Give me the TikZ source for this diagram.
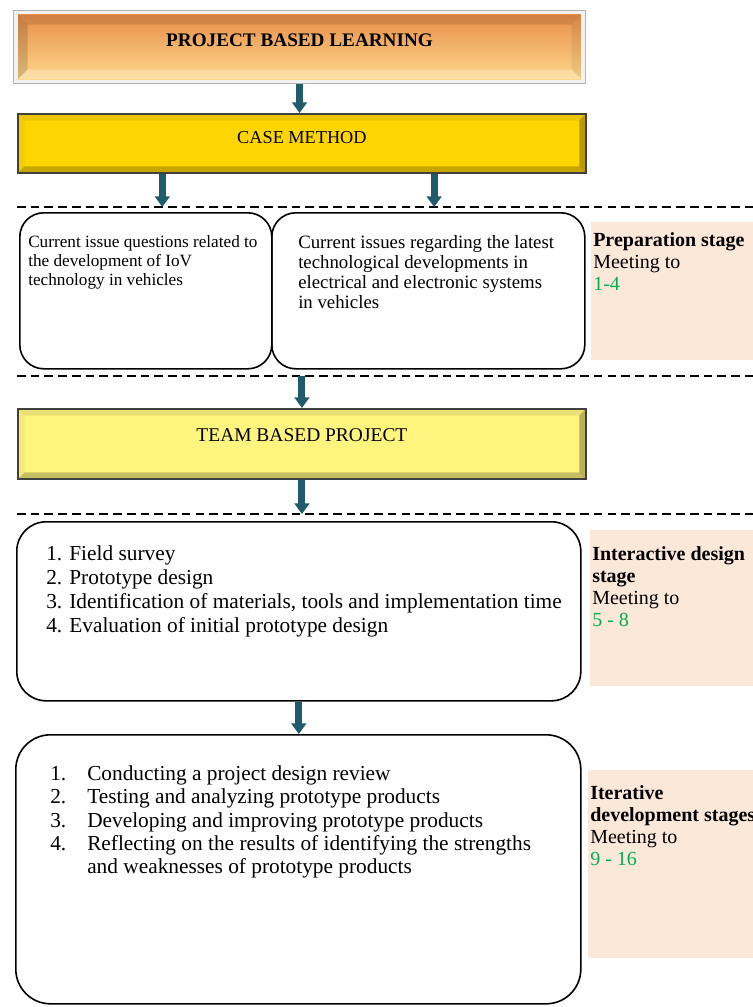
\documentclass[tikz,border=0pt]{standalone}
\usepackage{fontspec}
\setmainfont{Liberation Serif}
\usepackage{xcolor}
\usetikzlibrary{arrows.meta,positioning,calc}
\newlength{\px}
\setlength{\px}{0.75pt}
\definecolor{arrteal}{HTML}{1F5B6B}
\definecolor{pbltop}{HTML}{E68A46}
\definecolor{pblmid}{HTML}{FBA24E}
\definecolor{pblbot}{HTML}{FFDC8E}
\definecolor{cmgold}{HTML}{FFD500}
\definecolor{tbpyellow}{HTML}{FFF47E}
\definecolor{stagefill}{HTML}{FCE8D9}
\definecolor{meetgreen}{HTML}{00B050}
% bevel edges inside a path picture: inset, depth, top, left, right, bottom
\newcommand{\bevelbox}[6]{%
  \path (path picture bounding box.north west) ++(#1,-#1) coordinate (bA)
        (path picture bounding box.south east) ++(-#1,#1) coordinate (bC);
  \coordinate (bB) at (bC |- bA);
  \coordinate (bD) at (bA |- bC);
  \fill[#3] (bA) -- (bB) -- ($(bB)+(-#2,-#2)$) -- ($(bA)+(#2,-#2)$) -- cycle;
  \fill[#4] (bA) -- (bD) -- ($(bD)+(#2,#2)$) -- ($(bA)+(#2,-#2)$) -- cycle;
  \fill[#5] (bB) -- (bC) -- ($(bC)+(-#2,#2)$) -- ($(bB)+(-#2,-#2)$) -- cycle;
  \fill[#6] (bD) -- (bC) -- ($(bC)+(-#2,#2)$) -- ($(bD)+(#2,#2)$) -- cycle;
}

\begin{document}
\begin{tikzpicture}[x=0.75pt,y=-0.75pt]

\tikzset{
	headbox/.style={
		rectangle,
		anchor=north west,
		inner sep=0pt,
		text centered,
		minimum width=568\px},
	pblbox/.style={
		headbox,
		draw=black!30,
		line width=0.8pt,
		fill=black!5,
		minimum width=572\px,
		minimum height=73\px,
		text depth=11pt,
		font=\bfseries\fontsize{14.4}{16}\selectfont,
		path picture={
			\shade[top color=pbltop, middle color=pblmid, bottom color=pblbot]
				($(path picture bounding box.north west)+(3.5pt,-3pt)$) rectangle
				($(path picture bounding box.south east)+(-3.5pt,3pt)$);
			\bevelbox{3.5pt}{7pt}{black,opacity=0.10}{black,opacity=0.14}{black,opacity=0.06}{white,opacity=0.25}}},
	yelbox/.style={
		headbox,
		draw=black!75,
		line width=1.4pt,
		fill=#1,
		path picture={
			\bevelbox{0pt}{5pt}{black,opacity=0.08}{black,opacity=0.04}{black,opacity=0.28}{black,opacity=0.22}}},
	roundbox/.style={
		rectangle,
		anchor=north west,
		draw=black,
		line width=1.2pt,
		rounded corners=#1,
		inner sep=0pt},
	stagebox/.style={
		rectangle,
		anchor=north west,
		fill=stagefill,
		inner sep=0pt},
	boxtext/.style={
		anchor=north west,
		inner sep=0pt,
		align=left},
	stagetext/.style={
		boxtext,
		font=\fontsize{15}{16.5}\selectfont},
	flow/.style={
		draw=arrteal,
		line width=7\px,
		-{Triangle[width=11pt,length=8pt]}},
	sepline/.style={
		line width=1.5pt,
		dash pattern=on 6.5pt off 3.8pt}
}

\useasboundingbox (0,0) rectangle (753,1007);
\clip (0,0) rectangle (753,1007);

% heading boxes
\node[pblbox] (pbl) at (13,10) {PROJECT BASED LEARNING};
\node[yelbox=cmgold, minimum height=59\px, text depth=9pt, font=\fontsize{13.7}{15}\selectfont] (cm) at (17,113) {CASE METHOD};
\node[yelbox=tbpyellow, minimum height=70\px, text depth=13.5pt, font=\fontsize{14.6}{16}\selectfont] (tbp) at (17,408) {TEAM BASED PROJECT};

% stage separators
\coordinate (s1w) at (17,207);  \coordinate (s1e) at (760,207);
\coordinate (s2w) at (17,376);  \coordinate (s2e) at (760,376);
\coordinate (s3w) at (17,514);  \coordinate (s3e) at (760,514);
\draw[sepline] (s1w) -- (s1e);
\draw[sepline] (s2w) -- (s2e);
\draw[sepline] (s3w) -- (s3e);

% content boxes
\node[roundbox=18pt, minimum width=252\px, minimum height=156\px] (iss1) at (19,212) {};
\node[roundbox=18pt, minimum width=313\px, minimum height=156\px] (iss2) at (271,212) {};
\node[roundbox=22pt, minimum width=564\px, minimum height=179\px] (design) at (16,521) {};
\node[roundbox=26pt, minimum width=565\px, minimum height=269\px] (develop) at (15,734) {};

\node[boxtext, font=\fontsize{12.9}{14.3}\selectfont] (iss1t) at (28,235)
{Current issue questions related to\\the development of IoV\\technology in vehicles};
\node[boxtext, font=\fontsize{14.1}{15}\selectfont] (iss2t) at (298,235.5)
{Current issues regarding the latest\\technological developments in\\electrical and electronic systems\\in vehicles};
\node[boxtext, font=\fontsize{16}{18}\selectfont] (designt) at (46,545)
{1. Field survey\\2. Prototype design\\3. Identification of materials, tools and implementation time\\4. Evaluation of initial prototype design};
\node[boxtext, font=\fontsize{16}{17.6}\selectfont] (developt) at (50,765)
{\makebox[37\px][l]{1.}Conducting a project design review\\
 \makebox[37\px][l]{2.}Testing and analyzing prototype products\\
 \makebox[37\px][l]{3.}Developing and improving prototype products\\
 \makebox[37\px][l]{4.}Reflecting on the results of identifying the strengths\\
 \hspace*{37\px}and weaknesses of prototype products};

% stage labels
\node[stagebox, minimum width=170\px, minimum height=138\px] (st1) at (591,222) {};
\node[stagebox, minimum width=170\px, minimum height=156\px] (st2) at (590,530) {};
\node[stagebox, minimum width=170\px, minimum height=188\px] (st3) at (588,770) {};

\node[stagetext] (st1t) at (593,232.5)
{\textbf{Preparation stage}\\Meeting to\\\textcolor{meetgreen}{1-4}};
\node[stagetext] (st2t) at (592,546.5)
{\textbf{Interactive design}\\\textbf{stage}\\Meeting to\\\textcolor{meetgreen}{5 - 8}};
\node[stagetext] (st3t) at (590,785.5)
{\textbf{Iterative}\\\textbf{development stages}\\Meeting to\\\textcolor{meetgreen}{9 - 16}};

% arrows
\draw[flow] (pbl.south) -- (pbl.south |- cm.north);
\draw[flow] ($(cm.south west)!0.255!(cm.south east)$) coordinate (a1) -- (a1 |- s1w);
\draw[flow] ($(cm.south west)!0.732!(cm.south east)$) coordinate (a2) -- (a2 |- s1w);
\draw[flow] (tbp.north |- s2w) -- (tbp.north);
\draw[flow] (tbp.south) -- (tbp.south |- s3w);
\draw[flow] (design.south) -- (design.south |- develop.north);

\end{tikzpicture}
\end{document}
